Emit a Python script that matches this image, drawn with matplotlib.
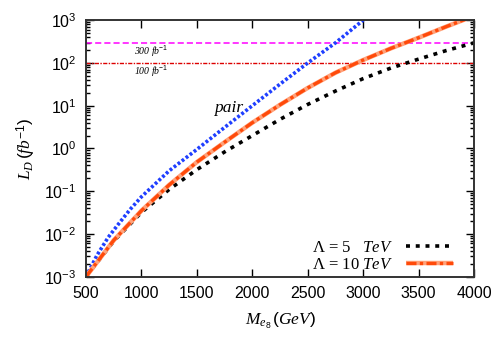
import numpy as np
import matplotlib
matplotlib.use('Agg')
import matplotlib.pyplot as plt
from matplotlib.ticker import LogLocator, NullFormatter, MultipleLocator

plt.rcParams['font.family'] = 'Liberation Sans'
plt.rcParams['mathtext.fontset'] = 'custom'
plt.rcParams['mathtext.rm'] = 'Liberation Sans'
plt.rcParams['mathtext.it'] = 'Liberation Serif:italic'
plt.rcParams['mathtext.sf'] = 'Liberation Sans'

# pair production curve (GeV, fb^-1)
m_pair = [500, 600, 700, 800, 900, 1000, 1250, 1500, 1750, 2000, 2250, 2500, 2750, 3000]
l_pair = [1.0e-3, 3.2e-3, 8.3e-3, 1.8e-2, 3.8e-2, 7.4e-2, 0.30, 0.95, 3.1, 10, 32, 100, 295, 1000]

# single production, Lambda = 5 and 10 TeV
m_single = [500, 750, 1000, 1250, 1500, 1750, 2000, 2250, 2500, 2750, 3000, 3250, 3500, 3750, 4000]
l_5tev = [1.0e-3, 6.8e-3, 3.2e-2, 0.11, 0.32, 0.83, 2.0, 4.8, 10.7, 22, 43, 76, 123, 195, 295]
l_10tev = [1.0e-3, 7.1e-3, 3.5e-2, 0.14, 0.48, 1.4, 4.0, 10.5, 26, 59, 117, 219, 389, 708, 1259]

# luminosity reference lines
lumi_lines = [300, 100]
lumi_labels = ['300 fb$^{-1}$', '100 fb$^{-1}$']

fig = plt.figure(figsize=(5, 3.5), dpi=100)
ax = fig.add_axes([0.172, 0.2094, 0.776, 0.7329])

ax.axhline(lumi_lines[0], color='#ff00ff', lw=1.1, dashes=(4, 2))
ax.axhline(lumi_lines[1], color='#dd0000', lw=1.0, dashes=(3, 1, 1, 1))

ax.plot(m_pair, l_pair, color='#1f3fff', lw=2.6, dashes=(0.8, 0.6), dash_capstyle='butt')
h5, = ax.plot(m_single, l_5tev, color='black', lw=2.6, dashes=(1.1, 1.6), dash_capstyle='butt')
h10a, = ax.plot(m_single, l_10tev, color='#ffa27a', lw=3.2, solid_capstyle='butt')
h10b, = ax.plot(m_single, l_10tev, color='#ff4a0a', lw=2.4, dashes=(3, 1, 1, 1), dash_capstyle='butt')

ax.set_yscale('log')
ax.set_xlim(500, 4000)
ax.set_ylim(1e-3, 1e3)

ax.xaxis.set_major_locator(MultipleLocator(500))
ax.yaxis.set_major_locator(LogLocator(base=10, numticks=10))
ax.yaxis.set_minor_locator(LogLocator(base=10, subs=np.arange(2, 10), numticks=10))
ax.yaxis.set_minor_formatter(NullFormatter())
ax.tick_params(which='both', direction='in', top=True, right=True, labelsize=11.5, width=1)
ax.tick_params(which='major', length=6, pad=7)
ax.tick_params(which='minor', length=3)
for s in ax.spines.values():
    s.set_linewidth(1.4)
    s.set_color('#333333')

ax.text(1085, 10**2.26, lumi_labels[0], family='Liberation Serif', style='italic',
        fontsize=7, ha='center', va='center')
ax.text(1085, 10**1.79, lumi_labels[1], family='Liberation Serif', style='italic',
        fontsize=7, ha='center', va='center')
ax.text(1784, 10**0.94, 'pair', family='Liberation Serif', style='italic',
        fontsize=12.5, ha='center', va='center')

ax.set_ylabel(r'$L_D\,(fb^{-1})$', fontsize=12.5, labelpad=4)
ax.set_xlabel(r'$M_{e_8}\,(GeV)$', fontsize=12.5, labelpad=7)

leg = ax.legend([h5, (h10a, h10b)],
                ['Λ = 5   $\\mathit{TeV}$', 'Λ = 10 $\\mathit{TeV}$'],
                loc='lower right', bbox_to_anchor=(0.975, -0.03), frameon=False,
                markerfirst=False, handlelength=2.8, handletextpad=0.8,
                labelspacing=0.05, borderaxespad=0.3,
                prop={'family': 'Liberation Serif', 'size': 12})

fig.savefig('out.png', dpi=100)
